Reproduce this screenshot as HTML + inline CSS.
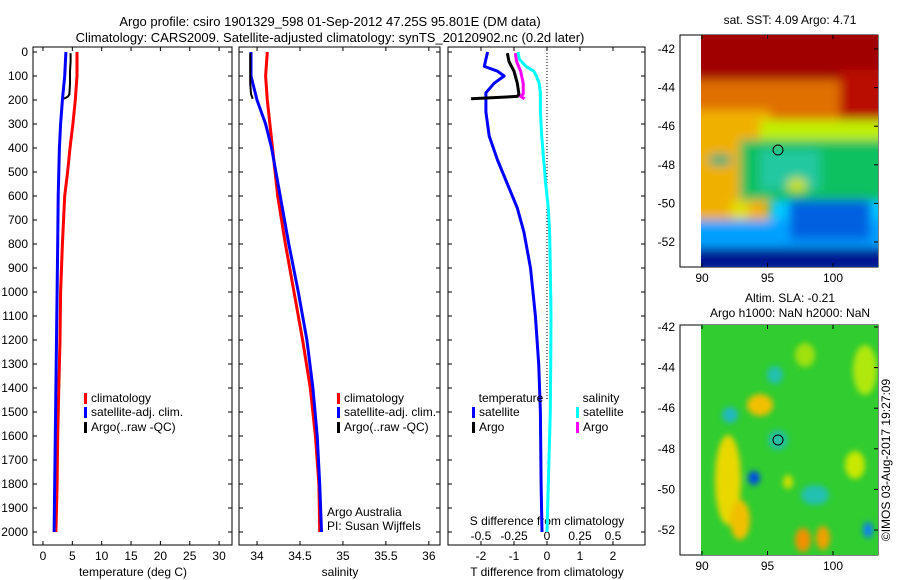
<!DOCTYPE html>
<html><head><meta charset="utf-8"><style>
body{margin:0;background:#fff;}
svg{display:block;font-family:"Liberation Sans",sans-serif;}
</style></head><body>
<svg id="fig" width="900" height="580" viewBox="0 0 900 580" xmlns="http://www.w3.org/2000/svg">
<defs>
<filter id="bl" x="-20%" y="-20%" width="140%" height="140%"><feGaussianBlur stdDeviation="5"/></filter>
<filter id="bl2" x="-50%" y="-50%" width="200%" height="200%"><feGaussianBlur stdDeviation="3"/></filter>
<clipPath id="c1"><rect x="701" y="35" width="177" height="232"/></clipPath>
<clipPath id="c2"><rect x="701" y="325" width="177" height="230"/></clipPath>
</defs>
<text x="330" y="26" font-size="13" text-anchor="middle">Argo profile: csiro 1901329_598 01-Sep-2012 47.25S 95.801E (DM data)</text>
<text x="330" y="42" font-size="13" text-anchor="middle">Climatology: CARS2009. Satellite-adjusted climatology: synTS_20120902.nc (0.2d later)</text>

<g>
<rect x="680" y="35" width="198" height="232" fill="#fff" stroke="#000"/>
<g clip-path="url(#c1)">
<rect x="701" y="35" width="177" height="232" fill="#00c8ff"/>
<g filter="url(#bl)">
<rect x="690" y="20" width="200" height="75" fill="#a00000"/>
<rect x="690" y="80" width="200" height="40" fill="#e07000"/>
<rect x="840" y="70" width="50" height="60" fill="#b81000"/>
<rect x="690" y="110" width="80" height="110" fill="#f0b000"/>
<rect x="760" y="120" width="130" height="30" fill="#c0f000"/>
<rect x="740" y="140" width="150" height="60" fill="#10c060"/>
<rect x="760" y="150" width="60" height="40" fill="#20c8a0"/>
<rect x="690" y="220" width="200" height="30" fill="#00a0ff"/>
<rect x="790" y="200" width="80" height="40" fill="#0060e0"/>
<rect x="690" y="248" width="200" height="25" fill="#001890"/>
<ellipse cx="720" cy="160" rx="12" ry="6" fill="#20b080"/>
<ellipse cx="797" cy="185" rx="10" ry="7" fill="#d0e000"/>
<ellipse cx="740" cy="210" rx="10" ry="10" fill="#e0e000"/>
</g></g>
<circle cx="778" cy="150" r="5" fill="none" stroke="#000"/>
</g>
<text x="790" y="24" font-size="12" text-anchor="middle">sat. SST: 4.09 Argo: 4.71</text>

<g>
<rect x="680" y="325" width="198" height="230" fill="#fff" stroke="#000"/>
<g clip-path="url(#c2)">
<rect x="701" y="325" width="177" height="230" fill="#30cc30"/>
<g filter="url(#bl2)">
<ellipse cx="760" cy="405" rx="13" ry="11" fill="#f0c000"/>
<ellipse cx="728" cy="480" rx="13" ry="45" fill="#e8d800"/>
<ellipse cx="740" cy="520" rx="10" ry="20" fill="#f0c000"/>
<ellipse cx="754" cy="478" rx="6" ry="7" fill="#0050e0"/>
<ellipse cx="803" cy="540" rx="8" ry="12" fill="#f09000"/>
<ellipse cx="823" cy="538" rx="7" ry="12" fill="#f0a000"/>
<ellipse cx="775" cy="375" rx="8" ry="9" fill="#20c0b0"/>
<ellipse cx="730" cy="415" rx="8" ry="8" fill="#20b8c0"/>
<ellipse cx="778" cy="440" rx="10" ry="10" fill="#20c0a0"/>
<ellipse cx="815" cy="495" rx="14" ry="10" fill="#20c0b0"/>
<ellipse cx="868" cy="530" rx="5" ry="8" fill="#1080f0"/>
<ellipse cx="855" cy="465" rx="10" ry="14" fill="#c8e800"/>
<ellipse cx="865" cy="370" rx="12" ry="25" fill="#b0e810"/>
<ellipse cx="805" cy="355" rx="10" ry="12" fill="#a0e010"/>
<ellipse cx="788" cy="482" rx="5" ry="7" fill="#d0e000"/>
</g></g>
<circle cx="778" cy="440" r="5" fill="none" stroke="#000"/>
</g>
<text x="790" y="302" font-size="12" text-anchor="middle">Altim. SLA: -0.21</text>
<text x="790" y="317" font-size="12" text-anchor="middle">Argo h1000: NaN h2000: NaN</text>
<text transform="translate(890,460) rotate(-90)" font-size="12" text-anchor="middle">©IMOS 03-Aug-2017 19:27:09</text>
<g id="plots"></g>
</svg>
<script>
const depthTicks=[0,100,200,300,400,500,600,700,800,900,1000,1100,1200,1300,1400,1500,1600,1700,1800,1900,2000];
const tTicks=[0,5,10,15,20,25,30];
const sTicks=[34,34.5,35,35.5,36];
const dTTicks=[-2,-1,0,1,2];
const dSTicks=[-0.5,-0.25,0,0.25,0.5];
const climDepth=[0,100,200,300,400,500,600,800,1000,1200,1400,1600,1800,2000];
const tClim=[5.8,5.8,5.5,5.1,4.6,4.2,3.7,3.3,3.0,2.9,2.7,2.5,2.4,2.2];
const tSat=[3.9,3.7,3.3,3.0,2.8,2.7,2.6,2.5,2.4,2.3,2.2,2.1,2.0,1.9];
const sClim=[34.12,34.1,34.12,34.15,34.18,34.21,34.24,34.33,34.43,34.53,34.62,34.68,34.72,34.73];
const sSat=[33.93,33.93,34.0,34.1,34.17,34.22,34.27,34.37,34.48,34.58,34.65,34.7,34.73,34.75];
const argoDepth=[5,40,80,130,175,185,195];
const tArgo=[4.7,4.7,4.6,4.6,4.5,4.3,3.6];
const sArgo=[33.92,33.92,33.92,33.92,33.93,33.94,33.95];
const dDepth=[0,30,60,80,100,130,170,250,350,450,550,650,750,900,1100,1300,1500,1800,2000];
const dTSat=[-1.8,-1.85,-1.9,-1.5,-1.3,-1.6,-1.85,-1.85,-1.75,-1.5,-1.2,-0.9,-0.7,-0.5,-0.35,-0.25,-0.2,-0.18,-0.15];
const dSSat=[-0.22,-0.21,-0.16,-0.1,-0.08,-0.06,-0.05,-0.05,-0.04,-0.025,-0.01,0.01,0.02,0.025,0.03,0.028,0.025,0.01,0.0];
const dTArgo=[-1.2,-1.15,-1.0,-0.9,-0.85,-0.9,-2.3];
const dSArgo=[-0.24,-0.23,-0.2,-0.18,-0.18,-0.2,-0.17];
const latTicks=[-42,-44,-46,-48,-50,-52];
const lonTicks=[90,95,100];

const NS='http://www.w3.org/2000/svg';
const plots=document.getElementById('plots');
function mk(tag,attrs,parent){const e=document.createElementNS(NS,tag);for(const k in attrs)e.setAttribute(k,attrs[k]);(parent||plots).appendChild(e);return e;}
const yD=d=>52+d*0.24;
const panels=[
 {x0:33,x1:232,v0:-1.7,v1:32.2,name:'temperature'},
 {x0:239,x1:440,v0:33.79,v1:36.13,name:'salinity'},
 {x0:448,x1:645,v0:-3.0,v1:2.97,name:'difference'}];
function xs(p,v){return p.x0+(v-p.v0)/(p.v1-p.v0)*(p.x1-p.x0);}
const pTop=47,pBot=545;
panels.forEach((p,i)=>{
 const r=mk('rect',{x:p.x0,y:pTop,width:p.x1-p.x0,height:pBot-pTop,fill:'none',stroke:'#000'});
 
 
 depthTicks.forEach(d=>{
  mk('line',{x1:p.x0,x2:p.x0+4,y1:yD(d),y2:yD(d),stroke:'#000'});
  mk('line',{x1:p.x1,x2:p.x1-4,y1:yD(d),y2:yD(d),stroke:'#000'});
 });
});
depthTicks.forEach(d=>{
 const t=mk('text',{x:28,y:yD(d)+4,'font-size':12,'text-anchor':'end'});t.textContent=d;
 
 
});
function xticks(p,ticks,scale,y,tickTop){
 ticks.forEach(v=>{const x=xs(p,v*scale);
  mk('line',{x1:x,x2:x,y1:pBot,y2:pBot-4,stroke:'#000'});
  if(tickTop)mk('line',{x1:x,x2:x,y1:pTop,y2:pTop+4,stroke:'#000'});
  const t=mk('text',{x:x,y:y,'font-size':12,'text-anchor':'middle'});t.textContent=v;
  
  });
}
xticks(panels[0],tTicks,1,560,true);
xticks(panels[1],sTicks,1,560,true);
xticks(panels[2],dTTicks,1,560,true);
xticks(panels[2],dSTicks,4,540,false);
function lab(x,y,s,n){const t=mk('text',{x:x,y:y,'font-size':12,'text-anchor':'middle'});t.textContent=s;
 
 }
lab(133,576,'temperature (deg C)','temperature-axis-title');
lab(340,576,'salinity','salinity-axis-title');
lab(547,576,'T difference from climatology','t-diff-axis-title');
lab(547,525,'S difference from climatology','s-diff-axis-title');
mk('line',{x1:xs(panels[2],0),x2:xs(panels[2],0),y1:pTop,y2:400,stroke:'#000','stroke-dasharray':'1,2'});
function line(p,depths,vals,scale,color,name,w){
 const pts=depths.map((d,i)=>xs(p,vals[i]*scale).toFixed(1)+','+yD(d).toFixed(1)).join(' ');
 const l=mk('polyline',{points:pts,fill:'none',stroke:color,'stroke-width':w||3,'stroke-linejoin':'round'});
 
 
}
line(panels[0],climDepth,tClim,1,'#f00','temp-climatology-line');
line(panels[0],climDepth,tSat,1,'#00f','temp-satellite-line');
line(panels[0],argoDepth,tArgo,1,'#000','temp-argo-line',2);
line(panels[1],climDepth,sClim,1,'#f00','sal-climatology-line');
line(panels[1],climDepth,sSat,1,'#00f','sal-satellite-line');
line(panels[1],argoDepth,sArgo,1,'#000','sal-argo-line',2);
line(panels[2],dDepth,dSSat,4,'#0ff','s-diff-satellite-line');
line(panels[2],dDepth,dTSat,1,'#00f','t-diff-satellite-line');
line(panels[2],argoDepth,dSArgo,4,'#f0f','s-diff-argo-line');
line(panels[2],argoDepth,dTArgo,1,'#000','t-diff-argo-line');
function leg(x,y,c,s){mk('rect',{x:x,y:y-9,width:3,height:11,fill:c});
 const t=mk('text',{x:x+7,y:y,'font-size':12});t.textContent=s;
 
 }
[[84,'climatology','#f00',402],[84,'satellite-adj. clim.','#00f',416],[84,'Argo(..raw -QC)','#000',431]].forEach(a=>leg(a[0],a[3],a[2],a[1]));
[[337,'climatology','#f00',402],[337,'satellite-adj. clim.','#00f',416],[337,'Argo(..raw -QC)','#000',431]].forEach(a=>leg(a[0],a[3],a[2],a[1]));
lab(511,402,'temperature','legend-temp-header');
lab(601,402,'salinity','legend-sal-header');
leg(472,416,'#00f','satellite');leg(472,431,'#000','Argo');
leg(576,416,'#0ff','satellite');leg(576,431,'#f0f','Argo');
const a1=mk('text',{x:327,y:516,'font-size':12});a1.textContent='Argo Australia';


const a2=mk('text',{x:327,y:530,'font-size':12});a2.textContent='PI: Susan Wijffels';


function mapAxes(y0,y1,latY0,latStep){
 latTicks.forEach((v,i)=>{const y=latY0+i*latStep;
  mk('line',{x1:878,x2:874,y1:y,y2:y,stroke:'#000'});
  const t=mk('text',{x:675,y:y+4,'font-size':12,'text-anchor':'end'});t.textContent=v;
  
  });
 lonTicks.forEach(v=>{const x=702+(v-90)*13.1;
  mk('line',{x1:x,x2:x,y1:y1,y2:y1-4,stroke:'#000'});
  mk('line',{x1:x,x2:x,y1:y0,y2:y0+4,stroke:'#000'});
  const t=mk('text',{x:x,y:y1+15,'font-size':12,'text-anchor':'middle'});t.textContent=v;
  
  });
}
mapAxes(35,267,49,38.6);
mapAxes(325,555,327,40.6);
</script>
</body></html>
